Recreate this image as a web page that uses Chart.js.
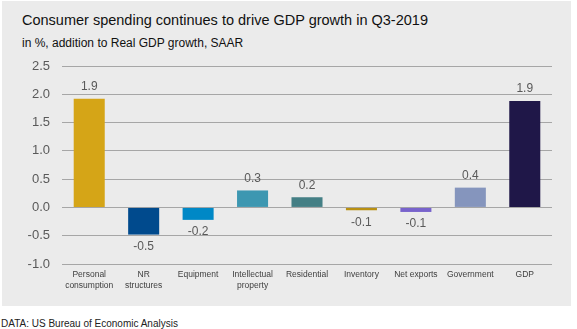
<!DOCTYPE html>
<html>
<head>
<meta charset="utf-8">
<script src="https://cdn.jsdelivr.net/npm/chart.js@4/dist/chart.umd.min.js"></script>
<style>
  html, body { margin:0; padding:0; background:#fff; }
  #wrap { position:relative; width:577px; height:329px; overflow:hidden; font-family:"Liberation Sans", Arial, sans-serif; }
  #panel { position:absolute; left:2px; top:1px; width:569px; height:305px; background:#EBEBEB; }
  #title { position:absolute; left:22px; top:12px; font-size:14.5px; color:#111; white-space:nowrap; }
  #subtitle { position:absolute; left:22px; top:36px; font-size:12px; color:#111; white-space:nowrap; }
  #footer { position:absolute; left:1px; top:318px; font-size:10px; color:#222; white-space:nowrap; }
  canvas { position:absolute; left:0; top:0; }
</style>
</head>
<body>
<div id="wrap">
  <div id="panel"></div>
  <div id="title">Consumer spending continues to drive GDP growth in Q3-2019</div>
  <div id="subtitle">in %, addition to Real GDP growth, SAAR</div>
  <div id="footer">DATA: US Bureau of Economic Analysis</div>
  <canvas id="c" width="577" height="329"></canvas>
</div>
<script>
const categories = [
  ["Personal", "consumption"], ["NR", "structures"], "Equipment", ["Intellectual", "property"],
  "Residential", "Inventory", "Net exports", "Government", "GDP"
];
const values = [1.92, -0.48, -0.22, 0.30, 0.18, -0.05, -0.08, 0.35, 1.88];
const valueLabels = ["1.9", "-0.5", "-0.2", "0.3", "0.2", "-0.1", "-0.1", "0.4", "1.9"];
const barColors = ["#D5A517", "#004A8D", "#0088C6", "#3D97B1", "#447F85", "#B99012", "#7863CC", "#8595BD", "#1F1748"];
const yTicks = [-1.0, -0.5, 0.0, 0.5, 1.0, 1.5, 2.0, 2.5];

const labelPlugin = {
  id: 'valueLabels',
  afterDatasetsDraw(chart) {
    const ctx = chart.ctx;
    const meta = chart.getDatasetMeta(0);
    ctx.save();
    ctx.font = '12px "Liberation Sans", Arial, sans-serif';
    ctx.fillStyle = '#595959';
    ctx.textAlign = 'center';
    ctx.textBaseline = 'middle';
    meta.data.forEach((bar, i) => {
      const v = values[i];
      const y = v >= 0 ? bar.y - 12 : bar.y + 12;
      ctx.fillText(valueLabels[i], bar.x, y);
    });
    ctx.restore();
  }
};

new Chart(document.getElementById('c'), {
  type: 'bar',
  data: {
    labels: categories,
    datasets: [{
      data: values,
      backgroundColor: barColors,
      borderWidth: 0,
      categoryPercentage: 1.0,
      barPercentage: 0.57
    }]
  },
  options: {
    responsive: false,
    animation: false,
    devicePixelRatio: 1,
    layout: { padding: { left: 2, right: 25, top: 66, bottom: 24 } },
    plugins: { legend: { display: false }, title: { display: false }, tooltip: { enabled: false } },
    scales: {
      x: {
        grid: { display: false, drawTicks: false },
        border: { display: false },
        ticks: {
          font: { family: '"Liberation Sans", Arial, sans-serif', size: 8.5, lineHeight: 1.3 },
          color: '#404040', padding: 5, maxRotation: 0, autoSkip: false
        },
        afterFit(scale) { scale.height = 41; }
      },
      y: {
        min: -1, max: 2.5,
        grid: { color: '#A6A6A6', lineWidth: 1, drawTicks: false },
        border: { display: false },
        ticks: {
          stepSize: 0.5,
          font: { family: '"Liberation Sans", Arial, sans-serif', size: 13 },
          color: '#595959', padding: 12,
          callback: (v) => { const t = yTicks.find(x => Math.abs(x - v) < 1e-9); return (t !== undefined ? t : v).toFixed(1); }
        },
        afterFit(scale) { scale.width = 60; }
      }
    }
  },
  plugins: [labelPlugin]
});
</script>
</body>
</html>
